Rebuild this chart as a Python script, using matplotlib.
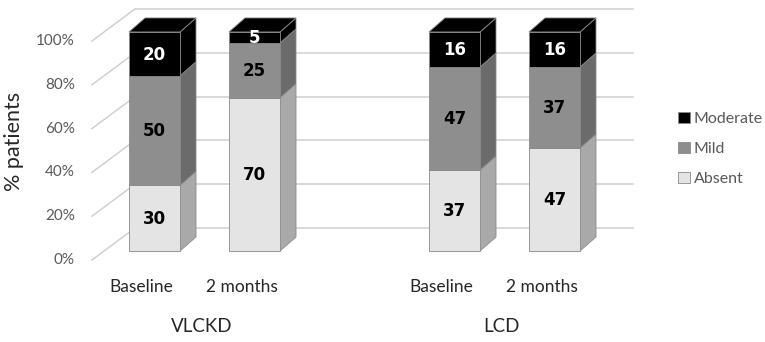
import numpy as np
import matplotlib
matplotlib.use("Agg")
import matplotlib.pyplot as plt
from matplotlib.patches import Polygon, Patch

plt.rcParams['font.family'] = ['Lato', 'DejaVu Sans']

# data
categories = ['Baseline', '2 months', 'Baseline', '2 months']
groups = ['VLCKD', 'LCD']
series = ['Absent', 'Mild', 'Moderate']
absent = [30, 70, 37, 47]
mild = [50, 25, 47, 37]
moderate = [20, 5, 16, 16]
yticks = [0, 20, 40, 60, 80, 100]

# position of each bar on the category axis (empty slot between groups)
xpos = np.array([0, 1, 3, 4])

front_col = {'Absent': '#e4e4e4', 'Mild': '#8e8e8e', 'Moderate': '#000000'}
side_col = {'Absent': '#a9a9a9', 'Mild': '#6b6b6b', 'Moderate': '#000000'}
top_col = {'Absent': '#cfcfcf', 'Mild': '#7a7a7a', 'Moderate': '#000000'}
txt_col = {'Absent': 'black', 'Mild': 'black', 'Moderate': 'white'}
edge = '#8a8a8a'
grid = '#d0d0d0'

w = 0.51          # bar width
dx, dy = 0.16, 6.4  # bar depth offset
# walls
wf_x, wb_x, wr_x = -0.625, -0.195, 4.785
wf_y, wb_y = -4.1, 10.5

fig = plt.figure(figsize=(7.65, 3.42), dpi=100)
ax = fig.add_axes([0, 0, 1, 1])
ax.set_xlim(-1.545, 6.105)
ax.set_ylim(-41.55, 114.6)
ax.axis('off')

# back wall gridlines and left wall diagonals
for g in yticks:
    ax.plot([wb_x, wr_x], [g + wb_y, g + wb_y], color=grid, lw=1.1, zorder=1)
    ax.plot([wf_x, wb_x], [g + wf_y, g + wb_y], color=grid, lw=1.1, zorder=1)
    ax.text(wf_x - 0.17, g + wf_y, '{}%'.format(g), ha='right', va='center',
            fontsize=11, color='#595959')

vals = {'Absent': absent, 'Mild': mild, 'Moderate': moderate}

for i, x in enumerate(xpos):
    bottom = 0
    l, r = x - w / 2, x + w / 2
    for s in series:
        v = vals[s][i]
        t = bottom + v
        ax.add_patch(Polygon([(r, bottom), (r + dx, bottom + dy), (r + dx, t + dy), (r, t)],
                             closed=True, fc=side_col[s], ec=edge, lw=0.6, zorder=2))
        ax.add_patch(Polygon([(l, bottom), (r, bottom), (r, t), (l, t)],
                             closed=True, fc=front_col[s], ec=edge, lw=0.6, zorder=3))
        ax.text(x, bottom + v / 2 - 0.4, str(v), ha='center', va='center',
                fontsize=12, fontweight='bold', family='DejaVu Sans',
                color=txt_col[s], zorder=5)
        bottom = t
    ax.add_patch(Polygon([(l, bottom), (l + dx, bottom + dy), (r + dx, bottom + dy), (r, bottom)],
                         closed=True, fc=top_col[series[-1]], ec=edge, lw=0.6, zorder=2))
    ax.text(x - 0.13, -16.4, categories[i], ha='center', va='center',
            fontsize=12.5, color='#262626')

for j, g in enumerate(groups):
    ax.text(xpos[2 * j:2 * j + 2].mean() - 0.03, -34.7, g, ha='center', va='center',
            fontsize=13.5, color='#262626')

ax.text(-1.405, 50, '% patients', rotation=90, ha='center', va='center',
        fontsize=15.5, color='#262626')

handles = [Patch(fc=front_col[s], ec=edge, lw=0.6) for s in series[::-1]]
ax.legend(handles, series[::-1], loc='center left', bbox_to_anchor=(0.868, 0.565),
          frameon=False, fontsize=11.5, labelcolor='#595959', handlelength=0.7,
          handleheight=0.7, handletextpad=0.25, labelspacing=0.98)

fig.savefig('out.png', dpi=100)
